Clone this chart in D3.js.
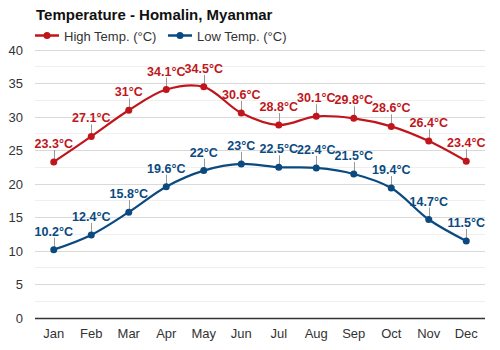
<!DOCTYPE html>
<html><head><meta charset="utf-8">
<script src="https://cdn.jsdelivr.net/npm/d3@7/dist/d3.min.js"></script>
<style>body{margin:0;background:#fff;font-family:"Liberation Sans",Arial,sans-serif}</style>
</head><body><svg id="c" width="500" height="350"></svg>
<script>
const months = ["Jan","Feb","Mar","Apr","May","Jun","Jul","Aug","Sep","Oct","Nov","Dec"];
const highTemp = [23.3,27.1,31,34.1,34.5,30.6,28.8,30.1,29.8,28.6,26.4,23.4];
const lowTemp = [10.2,12.4,15.8,19.6,22,23,22.5,22.4,21.5,19.4,14.7,11.5];
const yTicks = [0,5,10,15,20,25,30,35,40];
const seriesNames = ["High Temp. (°C)","Low Temp. (°C)"];
const colors = ["#c0161b","#0b4a80"];

const svg = d3.select("#c");
const font = '"Liberation Sans",Arial,sans-serif';
const x = d3.scaleBand().domain(months).range([35,485]);
const y = d3.scaleLinear().domain([0,40]).range([318,50]);
const cx = m => x(m) + x.bandwidth()/2;

// grid
const minor = d3.range(2.5,40,5);
svg.append("g").selectAll("line").data(minor).join("line")
  .attr("x1",35).attr("x2",485).attr("y1",d=>y(d)).attr("y2",d=>y(d))
  .attr("stroke","#efefef").attr("stroke-width",1).attr("shape-rendering","crispEdges");
svg.append("g").selectAll("line").data(yTicks.slice(1)).join("line")
  .attr("x1",35).attr("x2",485).attr("y1",d=>y(d)).attr("y2",d=>y(d))
  .attr("stroke","#d9d9d9").attr("stroke-width",1).attr("shape-rendering","crispEdges");

// y labels
svg.append("g").selectAll("text").data(yTicks).join("text")
  .attr("x",23).attr("y",d=>y(d)+4.5).attr("text-anchor","end")
  .attr("font-family",font).attr("font-size",13).attr("fill","#333").text(d=>d);

// x axis
svg.append("line").attr("x1",35).attr("x2",485).attr("y1",318.5).attr("y2",318.5)
  .attr("stroke","#333").attr("stroke-width",1.5);
svg.append("g").selectAll("text").data(months).join("text")
  .attr("x",d=>cx(d)).attr("y",338).attr("text-anchor","middle")
  .attr("font-family",font).attr("font-size",13).attr("fill","#333").text(d=>d);

// title
svg.append("text").attr("x",36).attr("y",19.5).attr("font-family",font)
  .attr("font-size",15).attr("font-weight","bold").attr("fill","#111")
  .text("Temperature - Homalin, Myanmar");

// legend
const legX = [35,168];
seriesNames.forEach((n,i)=>{
  const g = svg.append("g");
  g.append("line").attr("x1",legX[i]).attr("x2",legX[i]+24).attr("y1",35.5).attr("y2",35.5)
    .attr("stroke",colors[i]).attr("stroke-width",2.5);
  g.append("circle").attr("cx",legX[i]+12).attr("cy",35.5).attr("r",3.5).attr("fill",colors[i]);
  g.append("text").attr("x",legX[i]+29).attr("y",40.5).attr("font-family",font)
    .attr("font-size",13).attr("fill","#333").text(n);
});

const line = d3.line().x((d,i)=>cx(months[i])).y(d=>y(d)).curve(d3.curveCatmullRom.alpha(0.5));
[highTemp,lowTemp].forEach((data,si)=>{
  const g = svg.append("g");
  g.selectAll("line.lead").data(data).join("line").attr("class","lead")
    .attr("x1",(d,i)=>Math.round(cx(months[i]))+0.5).attr("x2",(d,i)=>Math.round(cx(months[i]))+0.5)
    .attr("y1",d=>y(d)).attr("y2",d=>y(d)-12)
    .attr("stroke","#999").attr("stroke-width",1);
  g.append("path").datum(data).attr("d",line).attr("fill","none")
    .attr("stroke",colors[si]).attr("stroke-width",2.2);
  g.selectAll("circle").data(data).join("circle")
    .attr("cx",(d,i)=>cx(months[i])).attr("cy",d=>y(d)).attr("r",3.5).attr("fill",colors[si]);
  g.selectAll("text").data(data).join("text")
    .attr("x",(d,i)=>cx(months[i])).attr("y",d=>y(d)-14).attr("text-anchor","middle")
    .attr("font-family",font).attr("font-size",12.5).attr("font-weight","bold")
    .attr("fill",colors[si]).text(d=>d+"°C");
});
</script></body></html>
